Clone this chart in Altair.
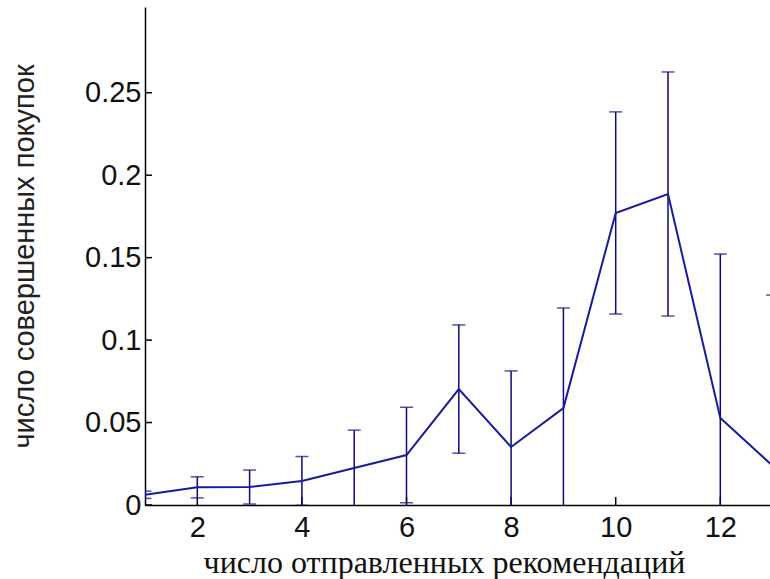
import altair as alt
import pandas as pd

# data
x_vals = [1, 2, 3, 4, 5, 6, 7, 8, 9, 10, 11, 12, 13]
means = [0.0062, 0.0107, 0.0109, 0.0146, 0.0224, 0.0303, 0.0703, 0.0352, 0.0588, 0.1771, 0.1886, 0.0528, 0.0238]
errs = [0.0022, 0.0064, 0.0103, 0.0148, 0.0230, 0.0290, 0.0389, 0.0461, 0.0607, 0.0613, 0.0740, 0.0994, 0.1035]

x_tick_vals = [2, 4, 6, 8, 10, 12]
y_tick_vals = [0, 0.05, 0.1, 0.15, 0.2, 0.25]

x_title = "число отправленных рекомендаций"
y_title = "число совершенных покупок"

df = pd.DataFrame({
    "x": x_vals,
    "m": means,
    "lo": [m - e for m, e in zip(means, errs)],
    "hi": [m + e for m, e in zip(means, errs)],
})
yt = pd.DataFrame({"x": [1] * len(y_tick_vals), "m": y_tick_vals})
xt = pd.DataFrame({"x": x_tick_vals, "m": [0] * len(x_tick_vals)})

W, H = 625, 498
xs = alt.Scale(domain=[1, 12.95], nice=False, zero=False)
ys = alt.Scale(domain=[0, 0.302], nice=False)

LINE = "#1a1a9c"
BAR = "#0a0a80"
SERIF = "Liberation Serif"

x_axis = alt.Axis(
    values=x_tick_vals, ticks=False, grid=False, domainColor="#000", domainWidth=1.5,
    labelFont="Liberation Sans", labelFontSize=29, labelColor="#111", labelPadding=8,
    title=x_title, titleFont=SERIF, titleFontSize=32, titleFontWeight="normal",
    titleColor="#111", titleX=299, titleY=67, titleBaseline="alphabetic", titleAnchor="middle")
y_axis = alt.Axis(
    values=y_tick_vals, format="~g", ticks=False, grid=False, domainColor="#000", domainWidth=1.5,
    labelFont="Liberation Sans", labelFontSize=29, labelColor="#111", labelPadding=4,
    title=y_title, titleFont="Liberation Sans", titleFontSize=29, titleFontWeight="normal",
    titleColor="#222", titleX=-121, titleY=249, titleAngle=-90, titleBaseline="middle",
    titleAlign="center")

X = alt.X("x:Q", scale=xs, axis=x_axis, title=x_title)

line = alt.Chart(df).mark_line(clip=True, color=LINE, strokeWidth=2).encode(
    x=X,
    y=alt.Y("m:Q", scale=ys, axis=y_axis, title=y_title),
)

bars = alt.Chart(df).mark_rule(clip=True, color=BAR, strokeWidth=1.5).encode(
    x=X,
    y=alt.Y("lo:Q", scale=ys, axis=y_axis, title=y_title),
    y2="hi:Q",
)
cap_hi = alt.Chart(df).mark_tick(clip=True, color=BAR, orient="horizontal", size=13, thickness=1.5).encode(
    x=X,
    y=alt.Y("hi:Q", scale=ys, axis=y_axis, title=y_title),
)
cap_lo = alt.Chart(df).mark_tick(clip=True, color=BAR, orient="horizontal", size=13, thickness=1.5).encode(
    x=X,
    y=alt.Y("lo:Q", scale=ys, axis=y_axis, title=y_title),
)

ytick_marks = alt.Chart(yt).mark_rule(color="#000", strokeWidth=1.5).encode(
    y=alt.Y("m:Q", scale=ys, axis=y_axis, title=y_title),
    x=alt.value(0), x2=alt.value(7),
)
xtick_marks = alt.Chart(xt).mark_rule(color="#000", strokeWidth=1.5).encode(
    x=X,
    y=alt.value(H), y2=alt.value(H - 8),
)

chart = alt.layer(ytick_marks, xtick_marks, bars, cap_hi, cap_lo, line).properties(
    width=W, height=H,
    autosize=alt.AutoSizeParams(type="none"),
    padding={"left": 145, "top": 7, "right": 0, "bottom": 74},
    background="white",
).configure_view(stroke=None).configure_axisX(titleFont=SERIF)

chart.save("out.html", embed_options={"renderer": "svg", "actions": False})
